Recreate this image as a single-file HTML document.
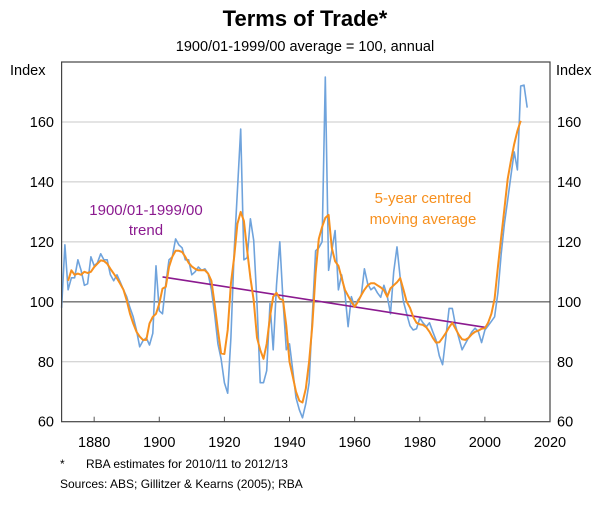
<!DOCTYPE html>
<html><head><meta charset="utf-8"><style>
body{margin:0;background:#fff}
svg text{font-family:"Liberation Sans",Arial,sans-serif}
</style></head><body>
<svg id="chart" width="611" height="503" viewBox="0 0 611 503" xmlns="http://www.w3.org/2000/svg">
<text x="305" y="26" text-anchor="middle" font-size="22" font-weight="bold">Terms of Trade*</text>
<text x="305" y="51" text-anchor="middle" font-size="14.5">1900/01-1999/00 average = 100, annual</text>
<text x="10" y="75" font-size="14.5">Index</text>
<text x="556" y="75" font-size="14.5">Index</text>
<g id="grid"></g>
<g id="marks"></g>
<g id="axes"></g>
<text x="146" y="215" text-anchor="middle" font-size="15" fill="#8b1a8f">1900/01-1999/00</text>
<text x="146" y="235" text-anchor="middle" font-size="15" fill="#8b1a8f">trend</text>
<text x="423" y="203" text-anchor="middle" font-size="15" fill="#f7901e">5-year centred</text>
<text x="423" y="224" text-anchor="middle" font-size="15" fill="#f7901e">moving average</text>
<text x="60" y="468" font-size="12">*</text>
<text x="86" y="468" font-size="12">RBA estimates for 2010/11 to 2012/13</text>
<text x="60" y="488" font-size="12">Sources: ABS; Gillitzer &amp; Kearns (2005); RBA</text>
</svg>
<script>
const blueStart = 1870;
const blueValues = [98,119,104,108,108,114,110.5,105.5,106,115,112,113,116,114,114,109,107,109,106.6,104,101.7,98,95,90.5,85,87,88,85.6,89.5,112,97,96,106,114,115,121,119,118,114,114,109,110,111.6,110.5,111,109.4,104,96,86,81,73,69.5,88,117,137,157.6,114,114.7,127.7,120.5,99.4,73,73,77,99.4,84,105.5,120,100.5,84,86,77,68,64,61.3,66,73,95,117,118,120,175,110.5,117,123.8,104,109,103,91.7,101.7,98.3,100.6,102,111,106,104,104.9,103,101.5,105.5,102,96,110,118.3,108,100,96,92,90.6,91,94.6,93,91.7,93,90,87.3,82,79,88,97.8,97.8,92,88,84,86,88,90,91.2,90,86.4,90.6,92,93.5,95,103,116,126,134,142,150,144,172,172.3,164.8];
const orangeStart = 1872;
const orangeValues = [107,110.5,109,109.4,109,110,109.6,110,111.6,112.7,113.8,113.6,112.7,111,109.4,107.8,106,104,100.5,96,92.8,90,88.4,87.3,87.3,92.8,95,96,99.4,104.4,105,111.6,115,117,117,116.6,115,113,111.8,111,110.5,110.5,110.5,109.4,107,99.4,90.6,82.8,82.6,90.6,106,115,126,130,127,117,108,100.5,88,84,81,86,95,101.7,103,101,100.6,92,80,75,70,67,66.4,71,80,92,109.5,121,125,128,129,118,113.5,112,108,104,102,100,98.3,100,102.2,104,105.5,106.2,106.2,105.5,104.8,103.9,101.7,104.5,105.5,106.5,107.9,104,100,98,95,93,92.5,92.3,91.5,90,88,86.4,86.5,88,89.6,91.5,93,91,89,87.5,87.3,88,89.2,90,90.4,91,91.2,93,96,101,111.6,121.6,131,141,147,152.6,157,160.4];
const trendYears = [1901, 2000];
const trendValues = [108.3, 91.5];
const yTicks = [60,80,100,120,140,160];
const xTicks = [1880,1900,1920,1940,1960,1980,2000,2020];

const L=61.6,R=550,T=62,B=421.7, X0=1870,X1=2020,Y0=60,Y1=180;
const sx=v=>L+(v-X0)*(R-L)/(X1-X0);
const sy=v=>B-(v-Y0)*(B-T)/(Y1-Y0);
const NS='http://www.w3.org/2000/svg';
function mk(tag,parent,attrs){const e=document.createElementNS(NS,tag);for(const k in attrs)e.setAttribute(k,attrs[k]);parent.appendChild(e);return e;}
const grid=document.getElementById('grid'),marks=document.getElementById('marks'),axes=document.getElementById('axes');
yTicks.forEach(v=>{
  if(v!==60&&v!==100){const g=mk('line',grid,{x1:L,x2:R,y1:sy(v),y2:sy(v),stroke:'#c8c8c8','stroke-width':1});
  
  }
  const t1=mk('text',axes,{x:54,y:sy(v)+5,'text-anchor':'end','font-size':14.5});t1.textContent=v;
  
  
  const t2=mk('text',axes,{x:557,y:sy(v)+5,'font-size':14.5});t2.textContent=v;
  
  
});
const base=mk('line',grid,{x1:L,x2:R,y1:sy(100),y2:sy(100),stroke:'#6e6e6e','stroke-width':1.3});


xTicks.forEach(v=>{
  const tk=mk('line',axes,{x1:sx(v),x2:sx(v),y1:B,y2:B-5,stroke:'#555','stroke-width':1});
  
  
  const t=mk('text',axes,{x:sx(v),y:447,'text-anchor':'middle','font-size':14.5});t.textContent=v;
  
  
});
const frame=mk('rect',axes,{x:L,y:T,width:R-L,height:B-T,fill:'none',stroke:'#444','stroke-width':1.2});


function pts(start,vals){return vals.map((v,i)=>sx(start+i).toFixed(1)+','+sy(v).toFixed(1)).join(' ');}
const blue=mk('polyline',marks,{points:pts(blueStart,blueValues),fill:'none',stroke:'#6fa3dc','stroke-width':1.6,'stroke-linejoin':'round'});


const trend=mk('line',marks,{x1:sx(trendYears[0]),y1:sy(trendValues[0]),x2:sx(trendYears[1]),y2:sy(trendValues[1]),stroke:'#8b1a8f','stroke-width':1.6});


const orange=mk('polyline',marks,{points:pts(orangeStart,orangeValues),fill:'none',stroke:'#f7901e','stroke-width':2,'stroke-linejoin':'round'});


</script>
</body></html>
